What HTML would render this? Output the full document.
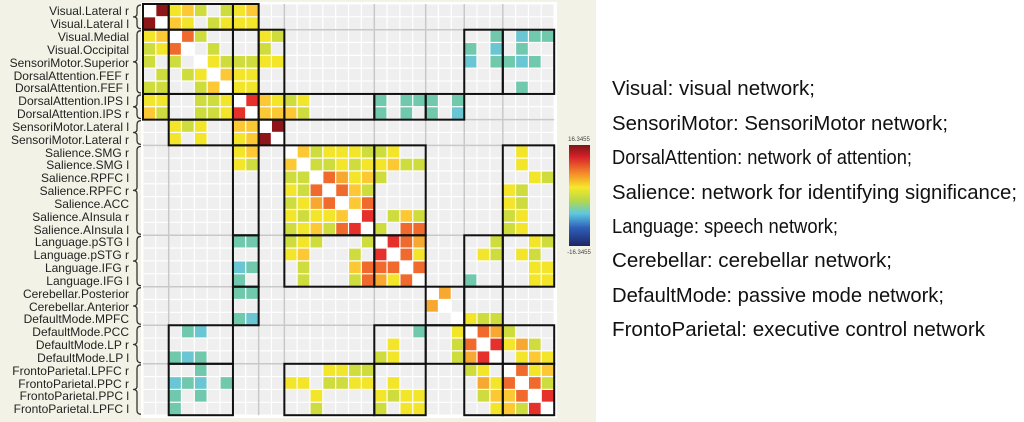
<!DOCTYPE html>
<html><head><meta charset="utf-8"><style>
html,body{margin:0;padding:0;background:#fff;width:1024px;height:422px;overflow:hidden}
svg{display:block}
.lb{font-family:"Liberation Sans",Arial,sans-serif;font-size:12px;fill:#222;text-anchor:end}
.rt{font-family:"Liberation Sans",Arial,sans-serif;font-size:20px;fill:#111}
</style></head><body>
<svg id="s" width="1024" height="422" xmlns="http://www.w3.org/2000/svg">
<rect x="0" y="0" width="596" height="422" fill="#f2f3e6"/>
<rect x="141" y="2" width="416" height="416" fill="#fff"/>
<g id="cells"></g>
<g id="grp"></g>
<g id="boxes"></g>
<g id="braces" fill="none" stroke="#333" stroke-width="1.3"></g>
<g>
<text class="lb" x="129" y="15">Visual.Lateral r</text>
<text class="lb" x="129" y="28">Visual.Lateral l</text>
<text class="lb" x="129" y="41">Visual.Medial</text>
<text class="lb" x="129" y="54">Visual.Occipital</text>
<text class="lb" x="129" y="67">SensoriMotor.Superior</text>
<text class="lb" x="129" y="80">DorsalAttention.FEF r</text>
<text class="lb" x="129" y="92">DorsalAttention.FEF l</text>
<text class="lb" x="129" y="105">DorsalAttention.IPS l</text>
<text class="lb" x="129" y="118">DorsalAttention.IPS r</text>
<text class="lb" x="129" y="131">SensoriMotor.Lateral l</text>
<text class="lb" x="129" y="144">SensoriMotor.Lateral r</text>
<text class="lb" x="129" y="157">Salience.SMG r</text>
<text class="lb" x="129" y="169">Salience.SMG l</text>
<text class="lb" x="129" y="182">Salience.RPFC l</text>
<text class="lb" x="129" y="195">Salience.RPFC r</text>
<text class="lb" x="129" y="208">Salience.ACC</text>
<text class="lb" x="129" y="221">Salience.AInsula r</text>
<text class="lb" x="129" y="234">Salience.AInsula l</text>
<text class="lb" x="129" y="246">Language.pSTG l</text>
<text class="lb" x="129" y="259">Language.pSTG r</text>
<text class="lb" x="129" y="272">Language.IFG r</text>
<text class="lb" x="129" y="285">Language.IFG l</text>
<text class="lb" x="129" y="298">Cerebellar.Posterior</text>
<text class="lb" x="129" y="311">Cerebellar.Anterior</text>
<text class="lb" x="129" y="323">DefaultMode.MPFC</text>
<text class="lb" x="129" y="336">DefaultMode.PCC</text>
<text class="lb" x="129" y="349">DefaultMode.LP r</text>
<text class="lb" x="129" y="362">DefaultMode.LP l</text>
<text class="lb" x="129" y="375">FrontoParietal.LPFC r</text>
<text class="lb" x="129" y="388">FrontoParietal.PPC r</text>
<text class="lb" x="129" y="400">FrontoParietal.PPC l</text>
<text class="lb" x="129" y="413">FrontoParietal.LPFC l</text>
</g>
<defs><linearGradient id="cb" x1="0" y1="0" x2="0" y2="1">
<stop offset="0" stop-color="#7f1418"/><stop offset="0.12" stop-color="#d8222a"/>
<stop offset="0.28" stop-color="#f58a2a"/><stop offset="0.42" stop-color="#f5e82a"/>
<stop offset="0.55" stop-color="#b6d84a"/><stop offset="0.68" stop-color="#5cc8e0"/>
<stop offset="0.82" stop-color="#2f5fb8"/><stop offset="1" stop-color="#1d2566"/>
</linearGradient></defs>
<rect x="569" y="145" width="21" height="101" fill="url(#cb)"/>
<text x="579" y="141" font-family="Liberation Sans,sans-serif" font-size="6" fill="#444" text-anchor="middle">16.3455</text>
<text x="579" y="254" font-family="Liberation Sans,sans-serif" font-size="6" fill="#444" text-anchor="middle">-16.3455</text>
<text class="rt" x="612" y="95" textLength="203" lengthAdjust="spacingAndGlyphs">Visual: visual network;</text>
<text class="rt" x="612" y="130" textLength="336" lengthAdjust="spacingAndGlyphs">SensoriMotor: SensoriMotor network;</text>
<text class="rt" x="612" y="164" textLength="300" lengthAdjust="spacingAndGlyphs">DorsalAttention: network of attention;</text>
<text class="rt" x="612" y="199" textLength="405" lengthAdjust="spacingAndGlyphs">Salience: network for identifying significance;</text>
<text class="rt" x="612" y="233" textLength="226" lengthAdjust="spacingAndGlyphs">Language: speech network;</text>
<text class="rt" x="612" y="267" textLength="280" lengthAdjust="spacingAndGlyphs">Cerebellar: cerebellar network;</text>
<text class="rt" x="612" y="302" textLength="332" lengthAdjust="spacingAndGlyphs">DefaultMode: passive mode network;</text>
<text class="rt" x="612" y="336" textLength="373" lengthAdjust="spacingAndGlyphs">FrontoParietal: executive control network</text>
</svg>
<script>
(function(){
var N=32,X0=143,Y0=4,C=12.85;
var col={'.':'#efefef','w':'#ffffff','y':'#f3e52a','g':'#cfdc3e','Y':'#fcc934','o':'#f7a830','O':'#ef6a2c','r':'#e6302c','R':'#8e1618','t':'#70c8ad','c':'#6ac6d2'};
var M=[];for(var i=0;i<N;i++){M.push([]);for(var j=0;j<N;j++)M[i].push(i==j?'w':'.');}
function s(i,list){for(var k=0;k<list.length;k+=2){var j=list[k],v=list[k+1];M[i][j]=v;if(M[j][i]=='.')M[j][i]=v;}}
s(0,[1,'R',2,'y',3,'Y',4,'g',6,'g',7,'y',8,'Y']);
s(1,[2,'Y',3,'y',5,'g',6,'y',7,'y',8,'y']);
s(2,[0,'y',1,'Y',3,'O',4,'g',9,'y',10,'g',27,'t',29,'c',30,'t',31,'t']);
s(3,[0,'g',1,'y',5,'g',9,'g',25,'t',27,'c',29,'t']);
s(4,[0,'g',5,'y',6,'g',7,'g',8,'g',9,'y',10,'y',25,'c',27,'t',28,'t',29,'c',30,'t']);
s(5,[1,'g',3,'g',6,'Y',7,'y',8,'y']);
s(6,[0,'g',1,'g',4,'g',7,'y',8,'y',29,'t']);
s(7,[0,'y',1,'y',4,'g',5,'g',6,'y',8,'r',9,'Y',10,'y',11,'g',12,'y',18,'t',20,'t',21,'t',22,'t',24,'t']);
s(8,[0,'Y',1,'g',4,'g',5,'g',6,'y',9,'Y',10,'Y',11,'Y',12,'g',18,'t',20,'t',22,'t',24,'c']);
s(9,[2,'y',3,'g',4,'y',7,'Y',8,'Y',10,'R']);
s(10,[2,'y',4,'y',7,'y',8,'Y',9,'R']);
s(11,[7,'y',8,'Y',12,'Y',13,'g',14,'y',15,'y',16,'y',17,'g',18,'g',19,'y',29,'y']);
s(12,[7,'y',8,'g',11,'Y',13,'g',14,'g',15,'y',16,'g',17,'y',18,'y',19,'Y',20,'g',21,'g',29,'y']);
s(13,[11,'g',12,'g',14,'O',15,'o',16,'y',17,'Y',18,'g',30,'y',31,'g']);
s(14,[11,'y',12,'g',13,'O',15,'O',16,'Y',17,'g',28,'y',29,'g']);
s(15,[11,'g',12,'y',13,'o',14,'O',16,'Y',17,'O']);
s(16,[11,'y',12,'g',13,'y',14,'y',15,'Y',17,'r',19,'g',20,'Y',21,'g',28,'g',29,'y']);
s(17,[11,'g',12,'y',13,'Y',14,'g',15,'O',16,'r',18,'g',20,'O',21,'O']);
s(18,[7,'t',8,'t',11,'g',12,'y',13,'g',17,'g',19,'r',20,'O',21,'o',27,'g',30,'y',31,'g']);
s(19,[11,'y',12,'Y',16,'g',18,'r',20,'O',21,'y',26,'y',27,'g',29,'y',30,'g']);
s(20,[7,'c',8,'t',12,'g',16,'Y',17,'O',18,'O',19,'O',21,'O']);
s(21,[7,'t',12,'g',16,'g',17,'O',18,'o',19,'y',20,'O',25,'t',30,'y',31,'y']);
s(22,[7,'t',8,'t',23,'o']);
s(24,[7,'t',8,'c',25,'y',26,'g',27,'g']);
s(25,[3,'t',4,'c',21,'t',26,'O',27,'o',28,'g']);
s(26,[19,'y',25,'O',27,'r',28,'y',29,'o',30,'g']);
s(27,[2,'t',3,'c',4,'t',18,'g',19,'y',25,'o',26,'r',29,'y',30,'Y',31,'y']);
s(28,[4,'t',15,'y',17,'g',25,'g',26,'y',29,'O',30,'y',31,'Y']);
s(29,[2,'c',3,'t',4,'c',6,'t',11,'y',12,'y',15,'g',17,'y',19,'y',26,'o',27,'y',28,'O',30,'O',31,'g']);
s(30,[2,'t',4,'t',13,'y',18,'y',19,'g',20,'y',21,'y',26,'g',27,'Y',28,'Y',29,'O',31,'r']);
s(31,[2,'t',13,'g',18,'g',20,'y',21,'y',27,'y',28,'Y',29,'g',30,'r']);
var g=document.getElementById('cells'),h='';
for(var i=0;i<N;i++)for(var j=0;j<N;j++){
h+='<rect x="'+(X0+C*j+0.5).toFixed(2)+'" y="'+(Y0+C*i+0.5).toFixed(2)+'" width="'+(C-1.2).toFixed(2)+'" height="'+(C-1.2).toFixed(2)+'" fill="'+col[M[i][j]]+'"/>';}
g.innerHTML=h;
var B=[0,2,7,9,11,18,22,25,28,32];
var gl='';
for(var k=1;k<B.length-1;k++){var p=(X0+C*B[k]).toFixed(2),q=(Y0+C*B[k]).toFixed(2);
gl+='<line x1="'+p+'" y1="'+Y0+'" x2="'+p+'" y2="'+(Y0+C*N)+'" stroke="#c8c8c8" stroke-width="1.5"/>';
gl+='<line x1="'+X0+'" y1="'+q+'" x2="'+(X0+C*N)+'" y2="'+q+'" stroke="#c8c8c8" stroke-width="1.5"/>';}
document.getElementById('grp').innerHTML=gl;
var bx='';
for(var a=0;a<B.length-1;a++)for(var b=0;b<B.length-1;b++){
var any=false;for(var i=B[a];i<B[a+1];i++)for(var j=B[b];j<B[b+1];j++)if(M[i][j]!='.')any=true;
if(any)bx+='<rect x="'+(X0+C*B[b]).toFixed(2)+'" y="'+(Y0+C*B[a]).toFixed(2)+'" width="'+(C*(B[b+1]-B[b])).toFixed(2)+'" height="'+(C*(B[a+1]-B[a])).toFixed(2)+'" fill="none" stroke="#111" stroke-width="2"/>';}
document.getElementById('boxes').innerHTML=bx;
var br='';
for(var k=0;k<B.length-1;k++){var t=Y0+C*B[k]+1,bo=Y0+C*B[k+1]-1,m=(t+bo)/2;
br+='<path d="M141,'+t+' Q137,'+t+' 137,'+(t+4)+' L137,'+(m-3)+' Q137,'+m+' 133,'+m+' Q137,'+m+' 137,'+(m+3)+' L137,'+(bo-4)+' Q137,'+bo+' 141,'+bo+'"/>';}
document.getElementById('braces').innerHTML=br;
})();
</script>
</body></html>
